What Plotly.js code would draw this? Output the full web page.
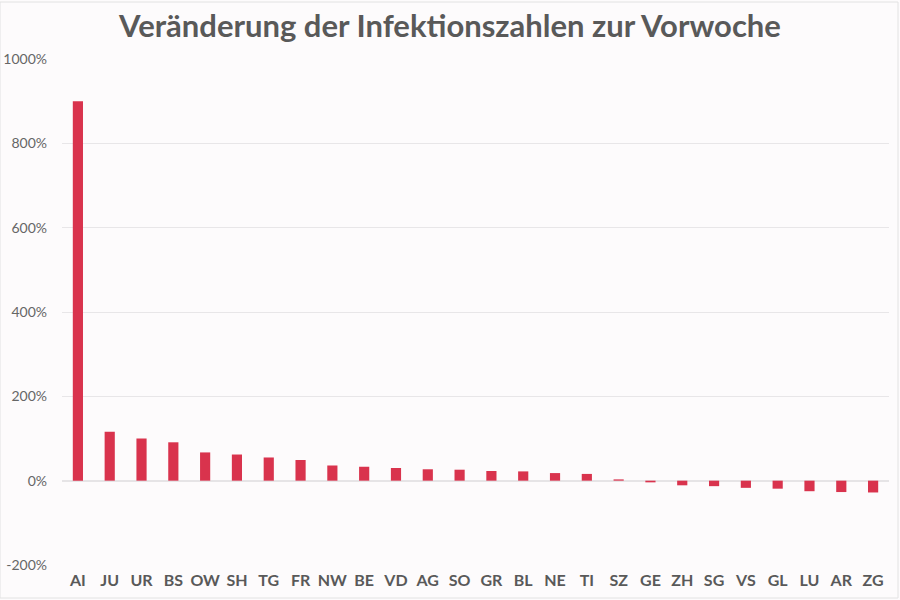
<!DOCTYPE html>
<html>
<head>
<meta charset="utf-8">
<script src="https://cdn.plot.ly/plotly-3.0.1.min.js"></script>
<style>html,body{margin:0;padding:0;background:#fdfbfc;}</style>
</head>
<body>
<div id="chart" style="width:900px;height:600px;"></div>
<script>
const cantons = ["AI","JU","UR","BS","OW","SH","TG","FR","NW","BE","VD","AG","SO","GR","BL","NE","TI","SZ","GE","ZH","SG","VS","GL","LU","AR","ZG"];
const changePct = [900,116,100,91,67,62,55,49,36,33,30,27,26,23,22,18,16,3,-4,-11,-13,-17,-19,-25,-27,-28];
const yTickVals = [-200,0,200,400,600,800,1000];
const yTickText = ["-200%","0%","200%","400%","600%","800%","1000%"];

const trace = {
  type: "bar",
  x: cantons,
  y: changePct,
  marker: {color: "#d9334d"},
  hoverinfo: "x+y"
};

const layout = {
  width: 900,
  height: 600,
  paper_bgcolor: "#fdfbfc",
  plot_bgcolor: "#fdfbfc",
  margin: {l: 62, r: 11, t: 59, b: 35},
  bargap: 0.68,
  title: {
    text: "<b>Veränderung der Infektionszahlen zur Vorwoche</b>",
    font: {family: "Lato, sans-serif", size: 31, color: "#595959"},
    x: 0.5, xanchor: "center", y: 0.975, yanchor: "top"
  },
  xaxis: {
    type: "category",
    tickfont: {family: "Lato, sans-serif", size: 16, color: "#595959", weight: "bold"},
    showgrid: false,
    zeroline: false,
    showline: false,
    ticks: "",
    ticklabelstandoff: 4,
    automargin: false
  },
  yaxis: {
    range: [-200, 1000],
    tickvals: yTickVals,
    ticktext: yTickText,
    tickfont: {family: "Lato, sans-serif", size: 14, color: "#666666"},
    gridcolor: "#e8e6e8",
    gridwidth: 1,
    zeroline: true,
    zerolinecolor: "#e6e4e6",
    zerolinewidth: 2,
    showline: false,
    ticks: "",
    ticklabelstandoff: 14,
    automargin: false
  },
  shapes: [{
    type: "rect", xref: "paper", yref: "paper",
    x0: -62/827, x1: 1 + 9/827, y0: -33/506, y1: 1 + 57/506,
    line: {color: "#e2e2e2", width: 1}, fillcolor: "rgba(0,0,0,0)"
  }],
  showlegend: false
};

Plotly.newPlot("chart", [trace], layout, {displayModeBar: false, staticPlot: true});
</script>
</body>
</html>
